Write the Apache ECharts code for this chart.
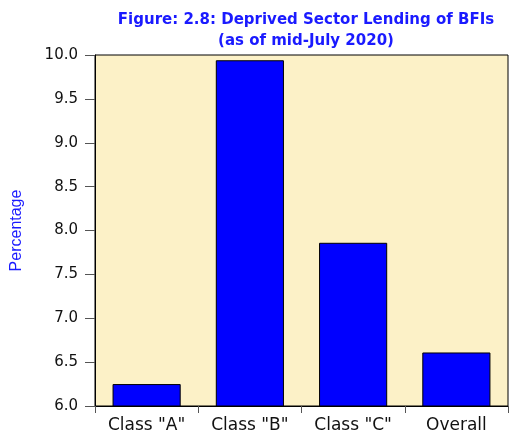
<!DOCTYPE html>
<html>
<head>
<meta charset="utf-8">
<script src="https://cdn.jsdelivr.net/npm/echarts@6/dist/echarts.min.js"></script>
<style>
  html, body { margin: 0; padding: 0; background: #fff; }
  #chart { width: 521px; height: 431px; }
</style>
</head>
<body>
<div id="chart"></div>
<script>
const categories = ['Class "A"', 'Class "B"', 'Class "C"', 'Overall']
const lendingValues = [6.25, 9.94, 7.86, 6.61]
const titleLines = ['Figure: 2.8: Deprived Sector Lending of BFIs', '(as of mid-July 2020)']

const chart = echarts.init(document.getElementById('chart'))

const option = {
  animation: false,
  title: {
    text: titleLines.join('\n'),
    left: 301,
    textAlign: 'center',
    top: 5,
    textStyle: {
      color: '#1a1aff',
      fontFamily: 'DejaVu Sans',
      fontWeight: 'bold',
      fontSize: 15,
      lineHeight: 21,
    },
  },
  grid: {
    left: 95,
    right: 13,
    top: 55,
    bottom: 25,
    outerBoundsMode: 'none',
    containLabel: false,
    show: true,
    backgroundColor: '#fcf1c7',
    borderColor: '#000',
    borderWidth: 1,
  },
  xAxis: {
    type: 'category',
    data: categories,
    axisLine: { lineStyle: { color: '#000' } },
    axisTick: { show: true, length: 7, lineStyle: { color: '#555' } },
    axisLabel: {
      color: '#111',
      fontFamily: 'DejaVu Sans',
      fontSize: 17,
      margin: 11,
      interval: 0,
    },
  },
  yAxis: {
    type: 'value',
    min: 6,
    max: 10,
    interval: 0.5,
    name: 'Percentage',
    nameLocation: 'middle',
    nameGap: 70,
    nameTextStyle: {
      color: '#1a1aff',
      fontFamily: 'Liberation Sans',
      fontSize: 16,
    },
    axisLine: { show: true, lineStyle: { color: '#000' } },
    axisTick: { show: true, inside: false, length: 10, lineStyle: { color: '#555' } },
    splitLine: { show: false },
    axisLabel: {
      color: '#111',
      fontFamily: 'DejaVu Sans',
      fontSize: 15,
      margin: 17,
      formatter: (v) => v.toFixed(1),
    },
  },
  series: [
    {
      type: 'bar',
      data: lendingValues,
      barCategoryGap: '34%',
      itemStyle: {
        color: '#0000ff',
        borderColor: '#000',
        borderWidth: 1,
      },
    },
  ],
}

chart.setOption(option)
</script>
</body>
</html>
